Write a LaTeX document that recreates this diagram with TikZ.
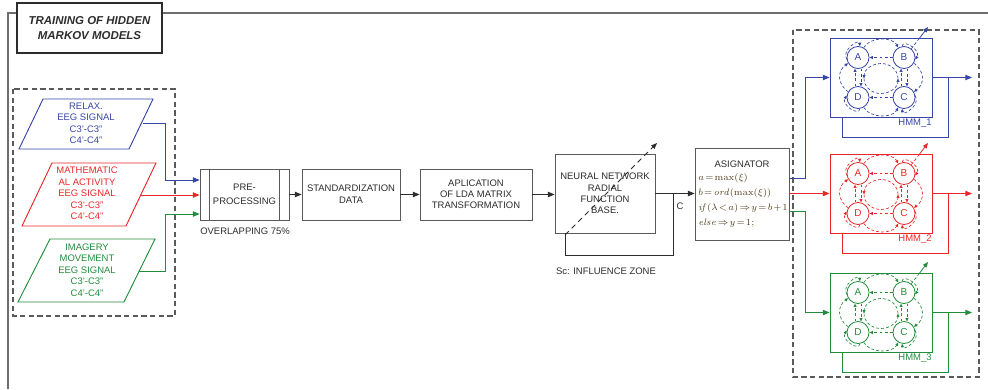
\documentclass[tikz,border=0pt]{standalone}
\usepackage[no-math]{fontspec}
\setmainfont{Liberation Sans}
\usetikzlibrary{arrows.meta,calc}
\definecolor{cb}{RGB}{55,70,165}
\definecolor{cr}{RGB}{232,40,40}
\definecolor{cg}{RGB}{35,140,60}
\definecolor{cgr}{RGB}{90,90,90}
\definecolor{cfr}{RGB}{110,110,110}
\definecolor{ctx}{RGB}{45,45,45}
\definecolor{cfm}{RGB}{85,65,35}
\newcommand\fmsp{\thickmuskip=2mu\relax\medmuskip=1.5mu\relax}
\tikzset{
 tx/.style={font=\fontsize{7.1}{8.6}\selectfont, align=center, text=ctx, inner sep=0pt},
 blk/.style={draw=cgr, line width=0.6pt, fill=white, inner sep=0pt, tx},
 arr/.style={-{Triangle[length=5pt,width=4pt]}},
 cl/.style={line width=0.7pt},
 ha/.style={dash pattern=on 2.2pt off 1.6pt, line width=0.5pt, -{Triangle[length=2.6pt,width=2.2pt]}},
 hd/.style={dash pattern=on 2.2pt off 1.6pt, line width=0.5pt},
 st/.style={circle, draw, line width=0.6pt, minimum size=16.5pt, inner sep=0pt, font=\fontsize{7.5}{8}\selectfont},
 dbox/.style={draw=cgr, dash pattern=on 4pt off 2.5pt, line width=0.9pt},
 fm/.style={anchor=west, text=cfm, inner sep=0pt, font=\fontsize{7.4}{9}\selectfont},
}
\newcommand\hmmblock[3]{%
\begin{scope}[shift={(881,#2)}, color=#1]
 \node[draw, line width=0.7pt, minimum width=76.5pt, minimum height=59.25pt, inner sep=0pt] (h#3) at (0,0) {};
 \node[st] (A#3) at (-23,-20) {A};
 \node[st] (B#3) at (23,-20) {B};
 \node[st] (D#3) at (-23,20) {D};
 \node[st] (C#3) at (23,20) {C};
 % self loops
 \draw[ha] (A#3.190) .. controls +(-6,-9) and +(-1,-8) .. (A#3.80);
 \draw[ha] (B#3.100) .. controls +(1,-8) and +(6,-9) .. (B#3.350);
 \draw[ha] (C#3.10) .. controls +(6,9) and +(1,8) .. (C#3.260);
 \draw[ha] (D#3.280) .. controls +(-1,8) and +(-6,9) .. (D#3.170);
 % top and bottom arcs
 \draw[ha] (A#3.60) .. controls +(6,-11) and +(-6,-11) .. (B#3.120);
 \draw[ha] (D#3.-60) .. controls +(6,11) and +(-6,11) .. (C#3.240);
 % straight
 \draw[ha] (B#3.180) -- (A#3.0);
 \draw[ha] (C#3.180) -- (D#3.0);
 \draw[ha] (A#3.285) -- (D#3.75);
 \draw[ha] (D#3.105) -- (A#3.255);
 \draw[ha] (B#3.285) -- (C#3.75);
 \draw[ha] (C#3.105) -- (B#3.255);
 % side arcs
 \draw[ha] (D#3.150) .. controls +(-11,-8) and +(-11,8) .. (A#3.210);
 \draw[ha] (B#3.330) .. controls +(11,8) and +(11,-8) .. (C#3.30);
 % central ellipse
 \draw[ha] (-17,1) arc[start angle=180, end angle=0, x radius=17, y radius=15];
 \draw[ha] (17,1) arc[start angle=0, end angle=-180, x radius=17, y radius=15];
 % out arrow from B
 \draw[hd] (B#3.50) -- (38.6,-39.5);
 \draw[line width=0.6pt, -{Triangle[length=4pt,width=3.2pt]}] (38.6,-39.5) -- (47,-50.5);
 % output and feedback
 \draw[cl, arr] (h#3.east) -- (91,0);
 \draw[cl] (67,0) -- (67,59.5) -- (-39,59.5) -- (-39,39.5);
 \node[tx, text=#1] (l#3) at (34,45.5) {HMM\_#3};
\end{scope}}
\begin{document}
\begin{tikzpicture}[x=0.75pt,y=-0.75pt]
\useasboundingbox (0,0) rectangle (988,389);
% frame
\draw[cfr, line width=1.2pt] (8,389) -- (8,13) -- (988,13);
\node[draw=ctx, line width=0.9pt, fill=white, minimum width=108.75pt, minimum height=37.5pt, inner sep=0pt,
  align=center, font=\fontsize{8.6}{11.25}\selectfont\bfseries\itshape, text=ctx] (title) at (89.5,28)
  {TRAINING OF HIDDEN\\MARKOV MODELS};
% left dashed group
\draw[dbox] (13,89) rectangle (175,316);
\draw[cb, line width=0.7pt] (43,99) -- (153,99) -- (129,149) -- (19,149) -- cycle;
\node[tx, text=cb] (p1) at (86,123.5) {RELAX.\\EEG SIGNAL\\C3'-C3''\\C4'-C4''};
\draw[cr, line width=0.7pt] (52,163) -- (156,163) -- (126,226) -- (22,226) -- cycle;
\node[tx, text=cr] (p2) at (87,193.5) {MATHEMATIC\\AL ACTIVITY\\EEG SIGNAL\\C3'-C3''\\C4'-C4''};
\draw[cg, line width=0.7pt] (50,239) -- (155,239) -- (124,302) -- (18,302) -- cycle;
\node[tx, text=cg] (p3) at (87,270) {IMAGERY\\MOVEMENT\\EEG SIGNAL\\C3'-C3''\\C4'-C4''};
\coordinate (p1e) at (143,123);
\coordinate (p2e) at (141,195);
\coordinate (p3e) at (139,271);
% chain
\node[blk, minimum width=66.75pt, minimum height=38.25pt, font=\fontsize{7.1}{10.7}\selectfont] (pre) at (244.5,194.5) {PRE-\\PROCESSING};
\draw[cgr, line width=0.6pt] ($(pre.north west)+(10,0)$) -- ($(pre.south west)+(10,0)$);
\draw[cgr, line width=0.6pt] ($(pre.north east)+(-10,0)$) -- ($(pre.south east)+(-10,0)$);
\node[tx] (ovl) at (245,231) {OVERLAPPING 75\%};
\node[blk, minimum width=73.5pt, minimum height=38.25pt, font=\fontsize{7.1}{9}\selectfont] (std) at (351,194.5) {STANDARDIZATION\\DATA};
\node[blk, minimum width=84pt, minimum height=38.25pt, font=\fontsize{7.1}{8.3}\selectfont] (lda) at (476,194.5) {APLICATION\\OF LDA MATRIX\\TRANSFORMATION};
\node[blk, minimum width=75pt, minimum height=59.25pt] (nn) at (605,193.5) {NEURAL NETWORK\\RADIAL\\FUNCTION\\BASE.};
\node[blk, minimum width=70.5pt, minimum height=69pt] (asg) at (742,194) {};
\node[tx] (asgt) at (742,164) {ASIGNATOR};
\node[fm] (f1) at (698,178) {$\fmsp a=\max(\xi)$};
\node[fm] (f2) at (698,193) {$\fmsp b=\mathit{ord}(\max(\xi))$};
\node[fm] (f3) at (698,208) {$\fmsp \mathit{if}(\lambda<a)\Rightarrow y=b+1$};
\node[fm] (f4) at (698,223) {$\fmsp \mathit{else}\Rightarrow y=1;$};
% inputs to pre
\draw[cb, cl, arr] (p1e) -- (165,123) -- (165,180) -- ($(pre.west)+(0,-14.5)$);
\draw[cr, cl, arr] (p2e) -- (pre.west |- p2e);
\draw[cg, cl, arr] (p3e) -- (165,271) -- (165,214) -- ($(pre.west)+(0,19.5)$);
% chain arrows
\draw[ctx, line width=0.7pt, arr] (pre) -- (std);
\draw[ctx, line width=0.7pt, arr] (std) -- (lda);
\draw[ctx, line width=0.7pt, arr] (lda.east) -- (nn.west |- lda.east);
\draw[ctx, line width=0.7pt, arr] (nn.east) -- (asg.west |- nn.east);
\coordinate (fb) at (673,193.5);
\draw[ctx, line width=0.7pt] (fb) -- (673,255) -- (565,255) -- (565,233);
\draw[ctx, line width=0.6pt, dash pattern=on 4pt off 3pt, -{Triangle[length=4.5pt,width=3.5pt]}] (565,235) -- (657,143);
\node[tx] (clab) at (680,206) {C};
\node[tx] (sc) at (606,271) {Sc: INFLUENCE ZONE};
% right dashed group
\draw[dbox] (793,30) rectangle (979,377);
\hmmblock{cb}{77.5}{1}
\hmmblock{cr}{193.5}{2}
\hmmblock{cg}{312.5}{3}
\coordinate (ab) at (789,178);
\coordinate (ag) at (789,211);
\draw[cb, cl, arr] (ab) -- (805,178) -- (805,77.5) -- (h1.west);
\draw[cr, cl, arr] (asg.east |- h2.west) -- (h2.west);
\draw[cg, cl, arr] (ag) -- (805,211) -- (805,312.5) -- (h3.west);
\end{tikzpicture}
\end{document}
